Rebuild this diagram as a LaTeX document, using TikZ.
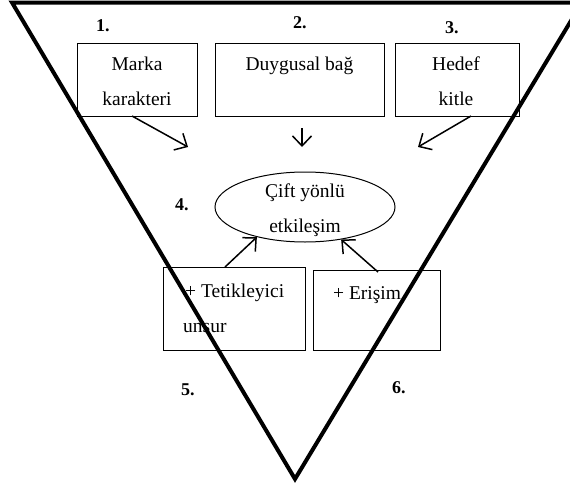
\documentclass[tikz,border=0pt]{standalone}
\usepackage{fontspec}
\setmainfont{Liberation Serif}
\usetikzlibrary{arrows.meta,shapes.geometric}

\begin{document}
\begin{tikzpicture}[x=1pt,y=-1pt,
  box/.style={draw, line width=0.9pt, rectangle, inner sep=0pt},
  oval/.style={draw, line width=1pt, ellipse, inner sep=0pt},
  txt/.style={inner sep=0pt, anchor=base, font=\fontsize{19.5}{23}\selectfont},
  num/.style={inner sep=0pt, anchor=base west, font=\fontsize{18}{20}\selectfont\bfseries},
  arr/.style={line width=1.5pt, -{Straight Barb[length=10pt,width=19pt,line width=1.5pt]}},
  funnel/.style={line width=4pt, line join=miter, miter limit=20}]
\useasboundingbox (0,0) rectangle (570,490);
\clip (0,0) rectangle (570,490);

% stage boxes
\node[box, minimum width=120pt, minimum height=73pt] (b1) at (137,79.5) {};
\node[box, minimum width=169pt, minimum height=73pt] (b2) at (299.5,79.5) {};
\node[box, minimum width=124pt, minimum height=73pt] (b3) at (457,79.5) {};
\node[oval, minimum width=180pt, minimum height=70pt] (el) at (305,207) {};
\node[box, minimum width=142pt, minimum height=83pt] (b5) at (234,308.5) {};
\node[box, minimum width=127pt, minimum height=80pt] (b6) at (376.5,310) {};

% box texts
\node[txt] (t1a) at (137,70) {Marka};
\node[txt] (t1b) at (137,105) {karakteri};
\node[txt] (t2) at (299.5,70) {Duygusal bağ};
\node[txt] (t3a) at (456,70) {Hedef};
\node[txt] (t3b) at (456,105) {kitle};
\node[txt] (t4a) at (305,197) {Çift yönlü};
\node[txt] (t4b) at (305,232) {etkileşim};
\node[txt, anchor=base west] (t5a) at (185,297) {+ Tetikleyici};
\node[txt, anchor=base west] (t5b) at (183,332) {unsur};
\node[txt, anchor=base west] (t6) at (333,299) {+ Erişim};

% stage numbers
\node[num] (n1) at (96,31) {1.};
\node[num] (n2) at (293,28) {2.};
\node[num] (n3) at (445,33) {3.};
\node[num] (n4) at (175,210) {4.};
\node[num] (n5) at (181,395) {5.};
\node[num] (n6) at (392,393) {6.};

% arrow end points
\coordinate (a1s) at (132,116);
\coordinate (a1e) at (188,147);
\coordinate (a2s) at (302,128);
\coordinate (a2e) at (302,147);
\coordinate (a3s) at (471,116);
\coordinate (a3e) at (418,147);
\coordinate (a5s) at (225,267);
\coordinate (a6s) at (378,272);

\draw[arr] (a1s) -- (a1e);
\draw[arr] (a2s) -- (a2e);
\draw[arr] (a3s) -- (a3e);
\draw[arr] (a5s) -- (el.212);
\draw[arr] (a6s) -- (el.318);

% funnel outline
\coordinate (fl) at (12,2.5);
\coordinate (fr) at (582,2.5);
\coordinate (fa) at (295,479);
\draw[funnel] (fl) -- (fa) -- (fr) -- cycle;
\end{tikzpicture}
\end{document}
